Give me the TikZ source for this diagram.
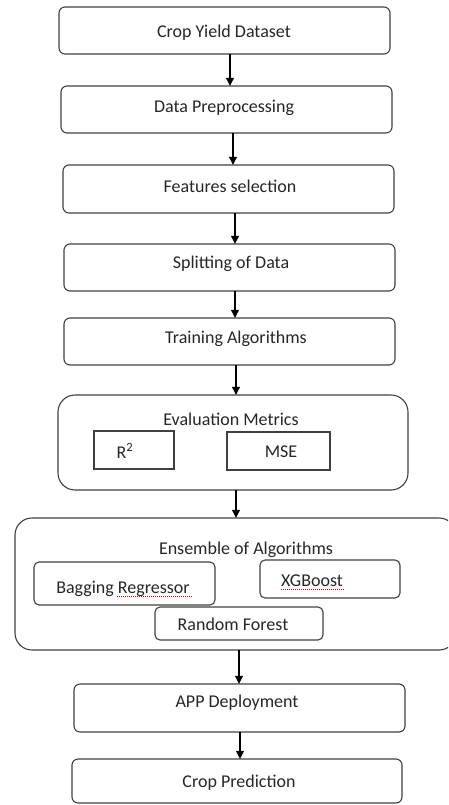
\documentclass[tikz,border=0pt]{standalone}
\usepackage{fontspec}
\setmainfont{Carlito}
\usetikzlibrary{arrows.meta}
\begin{document}
\begin{tikzpicture}[x=1pt,y=-1pt,
  every node/.style={font=\fontsize{18}{21}\selectfont, text=black!85},
  stepbox/.style={draw=black!75, line width=1.1pt, rounded corners=6pt},
  metricbox/.style={draw=black!75, line width=1.1pt},
  algbox/.style={draw=black!75, line width=1.1pt, rounded corners=5pt},
  groupbox/.style={draw=black!75, line width=1.1pt},
  arr/.style={draw=black, line width=1.1pt, -{Triangle[length=8pt,width=8pt]}},
  spell/.style={draw=red!85!black, line width=0.9pt, dash pattern=on 1pt off 1pt}]
\useasboundingbox (0,0) rectangle (448,805);
\clip (0,0) rectangle (448,805);
% main steps
\draw[stepbox] (59,7) rectangle (390,54);
\node (a) at (224.5,30.5) [minimum width=331pt, minimum height=47pt, inner sep=0pt] {};
\node at (224,33) {Crop Yield Dataset};
\draw[stepbox] (61,86) rectangle (392,133);
\node (b) at (226.5,109.5) [minimum width=331pt, minimum height=47pt, inner sep=0pt] {};
\node at (224,108) {Data Preprocessing};
\draw[stepbox] (63,165) rectangle (394,213);
\node (c) at (228.5,189) [minimum width=331pt, minimum height=48pt, inner sep=0pt] {};
\node at (230,186) {Features selection};
\draw[stepbox] (64,244) rectangle (395,291);
\node (d) at (229.5,267.5) [minimum width=331pt, minimum height=47pt, inner sep=0pt] {};
\node at (231,264) {Splitting of Data};
\draw[stepbox] (64,318) rectangle (395,365);
\node (e) at (229.5,341.5) [minimum width=331pt, minimum height=47pt, inner sep=0pt] {};
\node at (236,339) {Training Algorithms};
% evaluation metrics
\draw[groupbox, rounded corners=17pt] (58,395) rectangle (408,490);
\node (f) at (233,442.5) [minimum width=350pt, minimum height=95pt, inner sep=0pt] {};
\node (ft) at (231,419) {Evaluation Metrics};
\draw[metricbox] (94,431) rectangle (174,469);
\node (r2) at (125,451) {R\textsuperscript{2}};
\draw[metricbox] (227,432) rectangle (330,470);
\node (mse) at (281,452) {MSE};
% ensemble
\draw[groupbox, rounded corners=17pt] (15,518) rectangle (456,650);
\node (g) at (235.5,584) [minimum width=441pt, minimum height=132pt, inner sep=0pt] {};
\node (gt) at (246,550) {Ensemble of Algorithms};
\draw[algbox] (34,562) rectangle (215,605);
\node (bag) at (123,589) {Bagging Regressor};
\draw[spell] (117,596) -- (193,596);
\draw[algbox] (260,560) rectangle (400,598);
\node (xgb) at (312,581) {XGBoost};
\draw[spell] (281,589) -- (345,589);
\draw[algbox] (155,607) rectangle (323,640);
\node (rf) at (233,624) {Random Forest};
% final steps
\draw[stepbox] (74,684) rectangle (405,732);
\node (h) at (239.5,708) [minimum width=331pt, minimum height=48pt, inner sep=0pt] {};
\node at (237,703) {APP Deployment};
\draw[stepbox] (72,759) rectangle (402,803);
\node (i) at (237,781) [minimum width=330pt, minimum height=44pt, inner sep=0pt] {};
\node at (239,783) {Crop Prediction};
% arrows
\draw[arr] (a.south -| 230,0) -- (b.north -| 230,0);
\draw[arr] (b.south -| 233,0) -- (c.north -| 233,0);
\draw[arr] (c.south -| 235,0) -- (d.north -| 235,0);
\draw[arr] (d.south -| 235,0) -- (e.north -| 235,0);
\draw[arr] (e.south -| 236,0) -- (f.north -| 236,0);
\draw[arr] (f.south -| 236,0) -- (g.north -| 236,0);
\draw[arr] (g.south -| 239,0) -- (h.north -| 239,0);
\draw[arr] (h.south -| 240,0) -- (i.north -| 240,0);
\end{tikzpicture}
\end{document}
